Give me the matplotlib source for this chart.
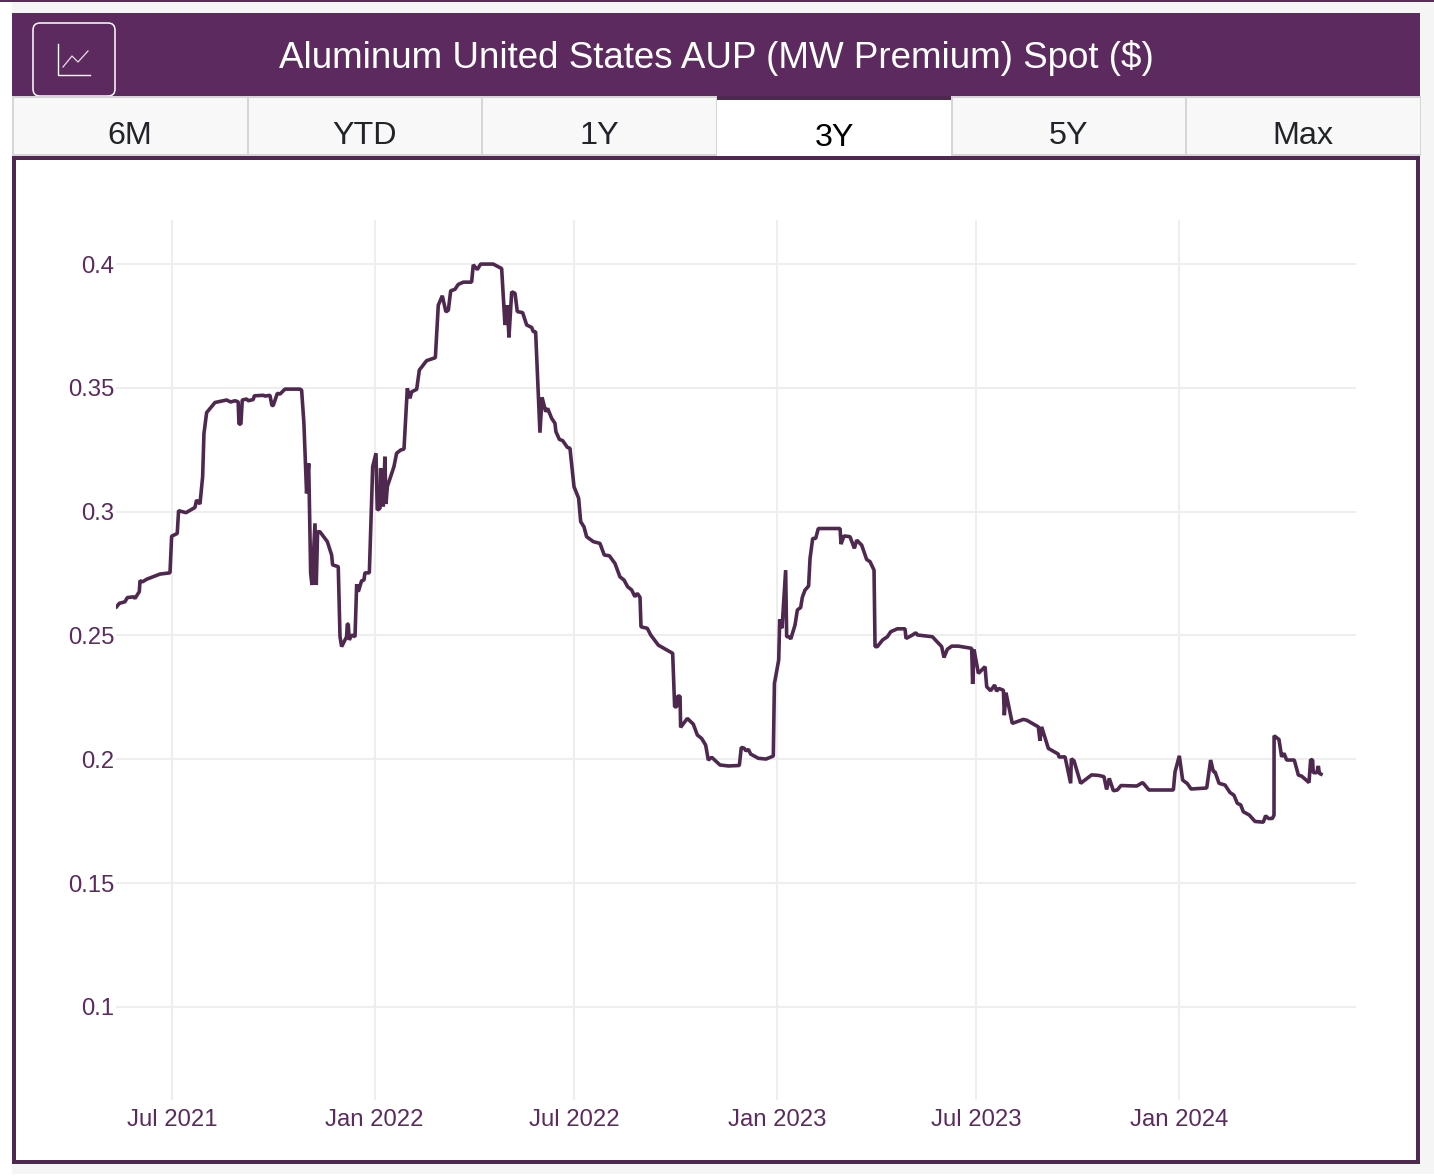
import numpy as np
import matplotlib
matplotlib.use("Agg")
import matplotlib.pyplot as plt
import matplotlib.dates as mdates
from matplotlib.patches import Rectangle, FancyBboxPatch

plt.rcParams['font.family'] = ['Liberation Sans', 'DejaVu Sans']

TITLE = "Aluminum United States AUP (MW Premium) Spot ($)"
TABS = ["6M", "YTD", "1Y", "3Y", "5Y", "Max"]
ACTIVE_TAB = "3Y"
Y_TICKS = [0.1, 0.15, 0.2, 0.25, 0.3, 0.35, 0.4]
Y_TICK_LABELS = ["0.1", "0.15", "0.2", "0.25", "0.3", "0.35", "0.4"]
X_TICK_DATES = ["2021-07-01", "2022-01-01", "2022-07-01", "2023-01-01", "2023-07-01", "2024-01-01"]
X_TICK_LABELS = ["Jul 2021", "Jan 2022", "Jul 2022", "Jan 2023", "Jul 2023", "Jan 2024"]

# days after 2021-07-01
days_2021 = [-50.2,-47.7,-42.6,-40.5,-35,-33.5,-29.6,-29,-26.6,-23,-10.9,-1.8,-0.3,4.8,6,12.7,20.8,22.3,25.4,27.8,29,31.4,39,49.5,53.2,57,60,60.7,62.5,63.7,67.7,69.2,73.7,74.6,82.8,84.3,88.8,90.6,91.8,95.5,97.9,102.4,116,117.5,119.6,122,123.9,125,125.7,126.9,129.6,130.8,132,134.1,140.8,144.7,145.6,150.7,152.3,153.8,158.3,158.9,159.8,160.7,162.8,165.9,167.4,168.9,171.9,174,174.9,178.9,181.9]
spot_2021 = [.2616,.2630,.2636,.2653,.2656,.2650,.2677,.2721,.2717,.2727,.2748,.2753,.2901,.2912,.3004,.2996,.3017,.3047,.3031,.3141,.3316,.3400,.3441,.3451,.3443,.3448,.3444,.3354,.3354,.3451,.3455,.3448,.3453,.3468,.3470,.3467,.3470,.3429,.3429,.3478,.3475,.3495,.3495,.3491,.3357,.3074,.3195,.2912,.2751,.2704,.2953,.2704,.2919,.2919,.2879,.2825,.2785,.2778,.2495,.2455,.2495,.2546,.2546,.2482,.2502,.2495,.2707,.2677,.2721,.2724,.2753,.2753,.3182]

days_2022 = [184.9,186.1,188.5,189.1,191.5,193,194,195.2,201.2,203.6,207.3,210.3,213.3,215.7,217.2,221.8,224.2,230.8,238.7,241.4,245,248.3,250.5,252.6,256.5,259.5,264.1,271.6,273.1,276.7,279.8,291.2,298.8,301.8,303.9,305.4,307.9,310.9,313,317.8,321.5,326,327.5,329.6,333.5,335.4,338.7,340.5,344.1,347.1,348,351.1,354.1,358.3,360.7,364.4,368.6,370.4,373.4,375.8,381.9,387.9,391.8,396.4,401.5,406,409.7,413,416.6,419.6,421.8,424.2,425.1,430.8,433.9,440.8,453.8,455.6,457.4,458.3,460.5,461,467.1,472.5,476.2,480.1,483.7,486.1,489.2,496.7,504.3,514.2,516,518.5,520.3,522.4,524.5,531.5,538.4,545]
spot_2022 = [.3236,.3007,.3013,.3175,.3020,.3222,.3031,.3101,.3182,.3236,.3249,.3253,.3498,.3458,.3484,.3494,.3572,.3610,.3622,.3834,.3872,.3807,.3814,.3892,.3898,.3918,.3927,.3927,.3997,.3978,.4,.4,.3982,.3754,.3834,.3704,.3888,.3882,.3808,.3804,.3754,.3744,.3727,.3727,.3319,.3462,.3404,.3417,.3377,.3357,.3323,.3292,.3287,.3260,.3256,.3101,.3054,.2960,.2939,.2899,.2879,.2872,.2825,.2822,.2791,.2737,.2724,.2697,.2684,.2657,.2670,.2654,.2535,.2529,.2502,.2461,.2428,.2212,.2212,.2255,.2255,.2129,.2165,.2142,.2098,.2084,.2057,.1997,.2008,.1977,.1973,.1975,.2048,.2045,.2034,.2040,.2021,.2004,.2001,.2013]

days_2023 = [546,549.9,550.8,552.9,556.2,557.1,559.2,560.8,564.7,566.8,569.8,571.3,573.7,577,578.3,580.7,583.4,585.8,605.5,606.4,609.1,614.5,618.5,620.6,625.1,629.6,632.7,636.3,637.2,639.3,644.1,648.4,651.4,657.4,664.4,665.3,670.4,674.3,675.6,689.2,697.6,699.7,702.7,706.7,712.7,724.8,725.7,726.9,730.9,736.9,738.4,742,745.6,747.4,749.5,753.5,754.4,755.9,761.6,771.6,774.6,785.2,786.7,788.2,794.3,803.3,803.9,809.4,814.5,815.1,817.5,823.6,833.5,839.6,844.7,847.1,849.5,853.2,856.8,860.1,874.3,879.8,885.5,907.6,909.1,913]
spot_2023 = [.2306,.2401,.2565,.2529,.2764,.2495,.2495,.2486,.2542,.2603,.2613,.2654,.2683,.2700,.2811,.2892,.2892,.2932,.2932,.2869,.2902,.2899,.2852,.2885,.2865,.2807,.2798,.2764,.2455,.2455,.2482,.2495,.2515,.2527,.2527,.2488,.2500,.2511,.2502,.2495,.2455,.2411,.2444,.2457,.2457,.2448,.2304,.2444,.2347,.2374,.2293,.2277,.2300,.2275,.2286,.2279,.2178,.2269,.2145,.2161,.2158,.2131,.2075,.2131,.2044,.2021,.2009,.2010,.1903,.2002,.1994,.1903,.1937,.1935,.1930,.1878,.1923,.1873,.1876,.1894,.1892,.1906,.1876,.1876,.1949,.2014]

days_2024 = [916,920.2,923.6,937.8,941.4,943.8,945.3,949,954.4,958.9,962.5,965.6,968.6,971,976.4,981.6,989.1,991.2,993.7,997.3,998.8,998.9,1003.3,1005.7,1007.9,1010.3,1017.2,1020.9,1023.9,1030.5,1032,1033.8,1034.4,1037.5,1039,1039.9,1041.4]
spot_2024 = [.1916,.1902,.1880,.1884,.1997,.1950,.1950,.1903,.1896,.1866,.1855,.1822,.1816,.1788,.1775,.1749,.1746,.1772,.1761,.1761,.1774,.2095,.2080,.2010,.2024,.1997,.1997,.1936,.1932,.1906,.1999,.1997,.1946,.1946,.1973,.1943,.1940]

# correction to the day readings, from the tick spacing seen in the reference
DAY_READING_SCALE = 1.00136

PURPLE = "#5c2a5e"
DARK = "#4f2750"
LINE = "#4f2850"
TAB_EDGE = "#d6d6d6"
W, H = 1434, 1176

fig = plt.figure(figsize=(W / 100, H / 100), dpi=100, facecolor="white")

# page chrome, drawn on a full-figure overlay in pixel units
bg = fig.add_axes([0, 0, 1, 1], zorder=0)
bg.set_xlim(0, W); bg.set_ylim(H, 0); bg.axis("off")
bg.add_patch(Rectangle((12, 2), W - 12, 1172, fc="#f5f5f5", ec="none"))
bg.add_patch(Rectangle((0, 0), W, 2, fc=PURPLE, ec="none"))
bg.add_patch(Rectangle((12, 13), 1408, 84, fc=PURPLE, ec="none"))
bg.text(716, 57.5, TITLE, color="white", fontsize=26.45, ha="center", va="center")

# icon button
bg.add_patch(FancyBboxPatch((33, 23), 82, 73, boxstyle="round,pad=0,rounding_size=7",
                            fc="none", ec="white", lw=1.1))
bg.plot([58, 58, 90], [44, 75, 75], color="white", lw=1.0, solid_joinstyle="miter")
bg.plot([63, 72, 78, 88], [67, 56, 62, 51], color="#e8dfe8", lw=0.9)

# range tabs
edges = [12, 247, 481, 716, 951, 1185, 1420]
for label, x0, x1 in zip(TABS, edges[:-1], edges[1:]):
    active = label == ACTIVE_TAB
    if active:
        bg.add_patch(Rectangle((x0 + 1, 96), x1 - x0 - 1, 60, fc="white", ec="none"))
        bg.add_patch(Rectangle((x0 + 1, 96), x1 - x0 - 1, 4, fc=DARK, ec="none"))
    else:
        bg.add_patch(Rectangle((x0, 96), x1 - x0 + 1, 60, fc=TAB_EDGE, ec="none"))
        bg.add_patch(Rectangle((x0 + 2, 98), x1 - x0 - 2, 56, fc="#f8f8f8", ec="none"))
    bg.text((x0 + x1) / 2 + 0.5, 137.5 if active else 136, label,
            color="#000000" if active else "#212529",
            fontsize=23.3, ha="center", va="center")

# chart frame
bg.add_patch(Rectangle((14, 158), 1404, 1004, fc="white", ec=DARK, lw=2.88, zorder=3))

# chart axes
L, R, T, B = 116, 1356, 220, 1100
ax = fig.add_axes([L / W, 1 - B / H, (R - L) / W, (B - T) / H], zorder=2)
ax.patch.set_alpha(0)
origin = np.datetime64("2021-07-01T00")
days = np.array(days_2021 + days_2022 + days_2023 + days_2024, dtype=float) * DAY_READING_SCALE
spot = np.array(spot_2021 + spot_2022 + spot_2023 + spot_2024, dtype=float)
dates = origin + (days * 24).round().astype(int).astype("timedelta64[h]")

ax.plot(dates, spot, color=LINE, lw=2.6, solid_joinstyle="bevel", zorder=3)

ax.set_xlim(origin + np.timedelta64(int(-50.8 * 24), "h"), origin + np.timedelta64(int(1074.6 * 24), "h"))
ax.set_ylim(0.0624, 0.4178)
ax.set_xticks([mdates.date2num(np.datetime64(d)) for d in X_TICK_DATES])
ax.set_xticklabels(X_TICK_LABELS)
ax.set_yticks(Y_TICKS)
ax.set_yticklabels(Y_TICK_LABELS)
ax.grid(True, color="#eeeeee", lw=1.5)
ax.set_axisbelow(True)
ax.tick_params(length=0, labelsize=17.2, labelcolor=PURPLE, pad=6.7)
ax.tick_params(axis="y", pad=1)
for s in ax.spines.values():
    s.set_visible(False)

fig.savefig("out.png", dpi=100, facecolor="white")
